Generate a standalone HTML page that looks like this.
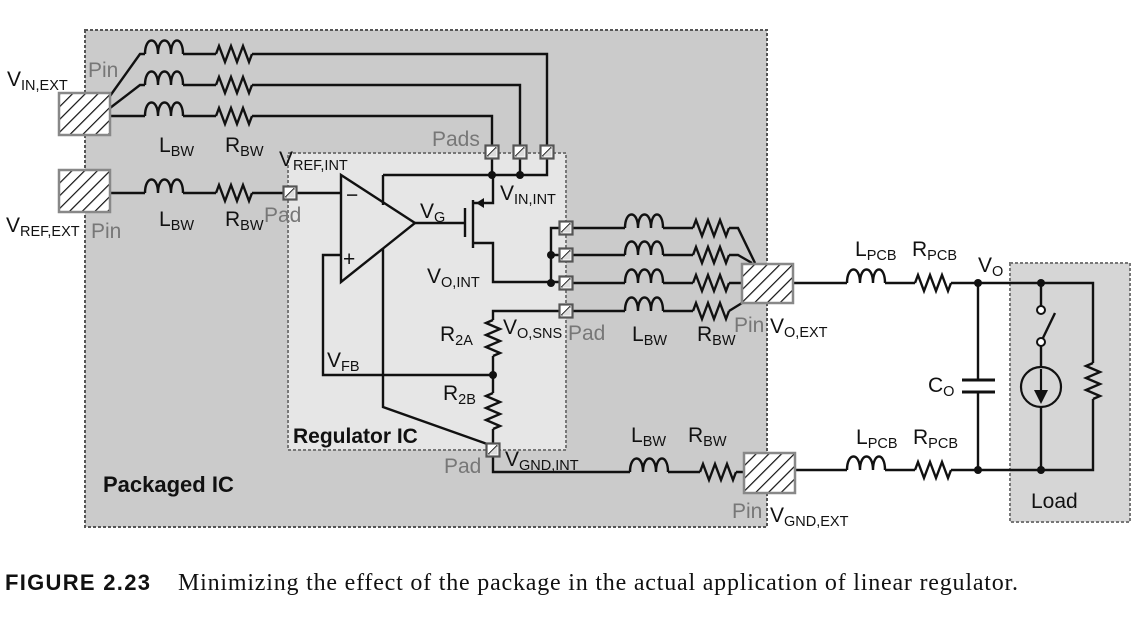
<!DOCTYPE html>
<html><head><meta charset="utf-8"><style>
html,body{margin:0;padding:0;background:#fff;}
svg{display:block;}
text{font-family:"Liberation Sans","DejaVu Sans",sans-serif;}
.lb{font-size:21px;fill:#111;}
.sb{font-size:14.5px;}
.gr{fill:#777;font-size:21px;}
</style></head><body>
<svg width="1148" height="629" viewBox="0 0 1148 629" xmlns="http://www.w3.org/2000/svg">
<defs>
<pattern id="hatch" patternUnits="userSpaceOnUse" width="9" height="9" patternTransform="rotate(45)">
<rect width="9" height="9" fill="#fff"/><line x1="0" y1="0" x2="0" y2="9" stroke="#111" stroke-width="2.4"/>
</pattern>
<path id="L" d="M0 0 c0 -18 13 -18 13 0 c0 -18 13 -18 13 0 c0 -18 12 -18 12 0" fill="none" stroke="#111" stroke-width="2.4"/>
<path id="R" d="M0 0 l3 -8 l6 16 l6 -16 l6 16 l6 -16 l6 16 l3 -8" fill="none" stroke="#111" stroke-width="2.4"/>
<path id="RV" d="M0 0 l-7 3 l14 6 l-14 6 l14 6 l-14 6 l14 6 l-7 3" fill="none" stroke="#111" stroke-width="2.4"/>
<g id="pad"><rect x="-6.5" y="-6.5" width="13" height="13" fill="#fff" stroke="#555" stroke-width="2.2"/><line x1="-4.5" y1="4.5" x2="4.5" y2="-4.5" stroke="#111" stroke-width="1.8"/><polygon points="-4.5,4.5 4.5,-4.5 4.5,4.5" fill="#ddd"/></g>
</defs>

<rect x="85" y="30" width="682" height="497" fill="#cbcbcb" stroke="#555" stroke-width="2" stroke-dasharray="3,2"/>
<rect x="288" y="153" width="278" height="297" fill="#e6e6e6" stroke="#777" stroke-width="2" stroke-dasharray="3,2"/>
<rect x="1010" y="263" width="120" height="259" fill="#d6d6d6" stroke="#777" stroke-width="2" stroke-dasharray="3,2"/>

<g fill="none" stroke="#111" stroke-width="2.4">
<path d="M110 96 L140 54 H145 M183 54 H216 M252 54 H547 V146"/>
<path d="M110 108 L140 85 H145 M183 85 H216 M252 85 H520 V146"/>
<path d="M110 116 H145 M183 116 H216 M252 116 H492 V146"/>
<path d="M110 193 H145 M183 193 H216 M252 193 H284 M296 193 H341"/>
<path d="M383 175 H547 V158 M520 175 V158 M492 175 V158"/>
<path d="M383 175 V205"/>
<path d="M341 175 L341 282 L415 223 Z"/>
<path d="M415 223 H465 M465 208 V237 M473 200 V248"/>
<path d="M473 203 H493 V175 M473 243 H493 V282 H560"/>
<path d="M341 255 H323 V375 H493"/>
<path d="M383 248 V407 L490 445"/>
<path d="M560 228 H551 V283 M551 255 H560"/>
<path d="M572 228 H625 M663 228 H693 M729 228 H738 L755 263"/>
<path d="M572 255 H625 M663 255 H693 M729 255 H738 L752 263"/>
<path d="M572 283 H625 M663 283 H693 M729 283 H742"/>
<path d="M572 311 H625 M663 311 H693 M729 311 L742 303"/>
<path d="M560 311 H493 V320 M493 356 V393 M493 429 V443"/>
<path d="M493 456 V472 H630 M668 472 H700 M736 472 H744"/>
<path d="M793 283 H847 M885 283 H915 M951 283 H1093 V363 M1093 399 V470 H951"/>
<path d="M795 470 H847 M885 470 H915"/>
<path d="M978 283 V380 M978 392 V470"/>
<path d="M962 380 H995 M962 392 H995" stroke-width="3"/>
<path d="M1041 283 V306 M1041 346 V367 M1041 407 V470"/>
<path d="M1041 342 L1055 313"/>
</g>
<rect x="59" y="93" width="51" height="42" fill="url(#hatch)" stroke="#888" stroke-width="2.5"/>
<rect x="59" y="170" width="51" height="42" fill="url(#hatch)" stroke="#888" stroke-width="2.5"/>
<rect x="742" y="264" width="51" height="39" fill="url(#hatch)" stroke="#888" stroke-width="2.5"/>
<rect x="744" y="453" width="51" height="40" fill="url(#hatch)" stroke="#888" stroke-width="2.5"/>

<use href="#L" x="145" y="54"/><use href="#R" x="216" y="54"/>
<use href="#L" x="145" y="85"/><use href="#R" x="216" y="85"/>
<use href="#L" x="145" y="116"/><use href="#R" x="216" y="116"/>
<use href="#L" x="145" y="193"/><use href="#R" x="216" y="193"/>
<use href="#L" x="625" y="228"/><use href="#R" x="693" y="228"/>
<use href="#L" x="625" y="255"/><use href="#R" x="693" y="255"/>
<use href="#L" x="625" y="283"/><use href="#R" x="693" y="283"/>
<use href="#L" x="625" y="311"/><use href="#R" x="693" y="311"/>
<use href="#L" x="630" y="472"/><use href="#R" x="700" y="472"/>
<use href="#L" x="847" y="283"/><use href="#R" x="915" y="283"/>
<use href="#L" x="847" y="470"/><use href="#R" x="915" y="470"/>
<use href="#RV" x="493" y="320"/><use href="#RV" x="493" y="393"/>
<use href="#RV" x="1093" y="363"/>

<use href="#pad" x="492" y="152"/><use href="#pad" x="520" y="152"/><use href="#pad" x="547" y="152"/>
<use href="#pad" x="290" y="193"/>
<use href="#pad" x="566" y="228"/><use href="#pad" x="566" y="255"/><use href="#pad" x="566" y="283"/><use href="#pad" x="566" y="311"/>
<use href="#pad" x="493" y="450"/>

<g fill="#111">
<circle cx="492" cy="175" r="4"/><circle cx="520" cy="175" r="4"/>
<circle cx="551" cy="255" r="4"/><circle cx="551" cy="283" r="4"/>
<circle cx="493" cy="375" r="4"/>
<circle cx="978" cy="283" r="4"/><circle cx="978" cy="470" r="4"/>
<circle cx="1041" cy="283" r="4"/><circle cx="1041" cy="470" r="4"/>
<path d="M476 203 l8 -5 v10 Z"/>
</g>
<circle cx="1041" cy="310" r="4" fill="#fff" stroke="#111" stroke-width="2"/>
<circle cx="1041" cy="342" r="4" fill="#fff" stroke="#111" stroke-width="2"/>
<circle cx="1041" cy="387" r="20" fill="none" stroke="#111" stroke-width="2.2"/>
<path d="M1041 369 V395" stroke="#111" stroke-width="2.2"/>
<path d="M1034 390 L1048 390 L1041 404 Z" fill="#111"/>

<text x="346" y="202" class="lb">−</text>
<text x="343" y="266" class="lb">+</text>

<text x="7" y="86" class="lb">V<tspan class="sb" dy="4">IN,EXT</tspan></text>
<text x="88" y="77" class="gr">Pin</text>
<text x="159" y="152" class="lb">L<tspan class="sb" dy="4">BW</tspan></text>
<text x="225" y="152" class="lb">R<tspan class="sb" dy="4">BW</tspan></text>
<text x="159" y="226" class="lb">L<tspan class="sb" dy="4">BW</tspan></text>
<text x="225" y="226" class="lb">R<tspan class="sb" dy="4">BW</tspan></text>
<text x="264" y="222" class="gr">Pad</text>
<text x="6" y="232" class="lb">V<tspan class="sb" dy="4">REF,EXT</tspan></text>
<text x="91" y="238" class="gr">Pin</text>
<text x="279" y="166" class="lb">V<tspan class="sb" dy="4">REF,INT</tspan></text>
<text x="432" y="146" class="gr">Pads</text>
<text x="500" y="200" class="lb">V<tspan class="sb" dy="4">IN,INT</tspan></text>
<text x="420" y="218" class="lb">V<tspan class="sb" dy="4">G</tspan></text>
<text x="427" y="283" class="lb">V<tspan class="sb" dy="4">O,INT</tspan></text>
<text x="440" y="341" class="lb">R<tspan class="sb" dy="4">2A</tspan></text>
<text x="503" y="334" class="lb">V<tspan class="sb" dy="4">O,SNS</tspan></text>
<text x="568" y="340" class="gr">Pad</text>
<text x="632" y="341" class="lb">L<tspan class="sb" dy="4">BW</tspan></text>
<text x="697" y="341" class="lb">R<tspan class="sb" dy="4">BW</tspan></text>
<text x="734" y="332" class="gr">Pin</text>
<text x="770" y="333" class="lb">V<tspan class="sb" dy="4">O,EXT</tspan></text>
<text x="327" y="367" class="lb">V<tspan class="sb" dy="4">FB</tspan></text>
<text x="443" y="400" class="lb">R<tspan class="sb" dy="4">2B</tspan></text>
<text x="293" y="443" style="font-size:21px;font-weight:bold;fill:#111">Regulator IC</text>
<text x="444" y="473" class="gr">Pad</text>
<text x="505" y="466" class="lb">V<tspan class="sb" dy="4">GND,INT</tspan></text>
<text x="631" y="442" class="lb">L<tspan class="sb" dy="4">BW</tspan></text>
<text x="688" y="442" class="lb">R<tspan class="sb" dy="4">BW</tspan></text>
<text x="103" y="492" style="font-size:22px;font-weight:bold;fill:#111">Packaged IC</text>
<text x="732" y="518" class="gr">Pin</text>
<text x="770" y="522" class="lb">V<tspan class="sb" dy="4">GND,EXT</tspan></text>
<text x="855" y="256" class="lb">L<tspan class="sb" dy="4">PCB</tspan></text>
<text x="912" y="256" class="lb">R<tspan class="sb" dy="4">PCB</tspan></text>
<text x="978" y="272" class="lb">V<tspan class="sb" dy="4">O</tspan></text>
<text x="928" y="392" class="lb">C<tspan class="sb" dy="4">O</tspan></text>
<text x="856" y="444" class="lb">L<tspan class="sb" dy="4">PCB</tspan></text>
<text x="913" y="444" class="lb">R<tspan class="sb" dy="4">PCB</tspan></text>
<text x="1031" y="508" class="lb">Load</text>

<text x="5" y="590" textLength="145" style="font-size:22px;font-weight:bold;fill:#111">FIGURE 2.23</text>
<text x="178" y="590" textLength="840" style="font-family:'Liberation Serif',serif;font-size:24px;fill:#111">Minimizing the effect of the package in the actual application of linear regulator.</text>
</svg>
</body></html>
